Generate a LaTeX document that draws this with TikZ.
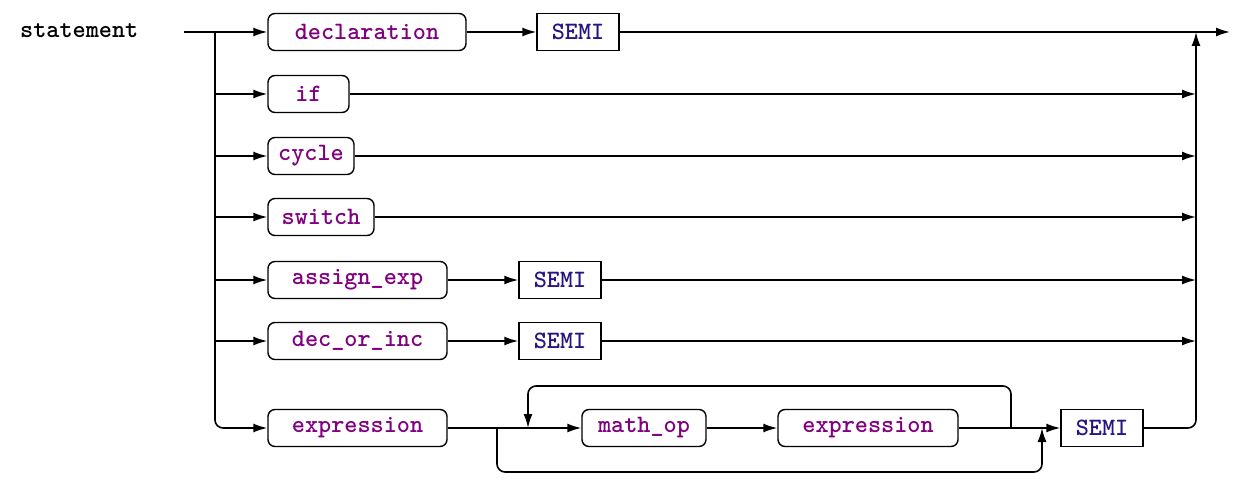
\documentclass[tikz,border=0pt]{standalone}
\usepackage{fontspec}
\usetikzlibrary{arrows.meta}
\definecolor{ntcol}{RGB}{128,0,128}
\definecolor{tcol}{RGB}{40,20,130}
\begin{document}
\begin{tikzpicture}[x=1pt,y=-1pt,
  line width=1.6pt,
  txt/.style={font=\fontsize{25}{27}\selectfont\ttfamily\bfseries},
  boxbase/.style={draw, txt, minimum height=37pt, inner sep=0pt, line width=1.4pt},
  nt/.style={boxbase, rounded corners=7pt, text=ntcol},
  tm/.style={boxbase, text=tcol},
  arr/.style={-{Latex[length=14pt,width=9pt]}},
  rc/.style={rounded corners=8pt}]
\useasboundingbox (0,0) rectangle (1260,500);
\node[txt, anchor=west] (lbl) at (16,31) {statement};
% nodes
\node[nt, minimum width=198pt] (decl) at (367,32) {declaration};
\node[tm, minimum width=82pt] (semi1) at (578,32) {SEMI};
\node[nt, minimum width=81pt] (if) at (308.5,94) {if};
\node[nt, minimum width=86pt] (cycle) at (311,156) {cycle};
\node[nt, minimum width=106pt] (switch) at (321,217) {switch};
\node[nt, minimum width=179pt] (assign) at (357.5,280) {assign\_exp};
\node[tm, minimum width=82pt] (semi2) at (560,280) {SEMI};
\node[nt, minimum width=179pt] (decinc) at (357.5,341) {dec\_or\_inc};
\node[tm, minimum width=82pt] (semi3) at (560,341) {SEMI};
\node[nt, minimum width=179pt] (expr1) at (357.5,428) {expression};
\node[nt, minimum width=124pt] (mathop) at (644,428) {math\_op};
\node[nt, minimum width=180pt] (expr2) at (868,428) {expression};
\node[tm, minimum width=82pt] (semi4) at (1102,428) {SEMI};
% coordinates
\coordinate (start) at (184,32);
\coordinate (split) at (215,32);
\coordinate (join) at (1196,32);
\coordinate (end) at (1230,32);
\coordinate (b1) at (497,428);
\coordinate (l1) at (528,428);
\coordinate (l2) at (1011,428);
\coordinate (b2) at (1042,428);
% connectors
\draw[arr] (start) -- (decl);
\draw[arr] (decl) -- (semi1);
\draw[arr] (semi1) -- (end);
\draw[arr, rc] (split) |- (expr1);
\draw[arr] (split |- if) -- (if);
\draw[arr] (split |- cycle) -- (cycle);
\draw[arr] (split |- switch) -- (switch);
\draw[arr] (split |- assign) -- (assign);
\draw[arr] (split |- decinc) -- (decinc);
\draw[arr] (if) -- (join |- if);
\draw[arr] (cycle) -- (join |- cycle);
\draw[arr] (switch) -- (join |- switch);
\draw[arr] (assign) -- (semi2);
\draw[arr] (semi2) -- (join |- semi2);
\draw[arr] (decinc) -- (semi3);
\draw[arr] (semi3) -- (join |- semi3);
\draw[arr, rc] (semi4.east) -| (join);
\draw (expr1) -- (b1);
\draw[arr] (b1) -- (mathop);
\draw[arr] (mathop) -- (expr2);
\draw[arr] (expr2) -- (semi4);
\draw[arr, rc] (l2) -- ++(0,-42) -| (l1);
\draw[arr, rc] (b1) -- ++(0,44) -| (b2);
\end{tikzpicture}
\end{document}
